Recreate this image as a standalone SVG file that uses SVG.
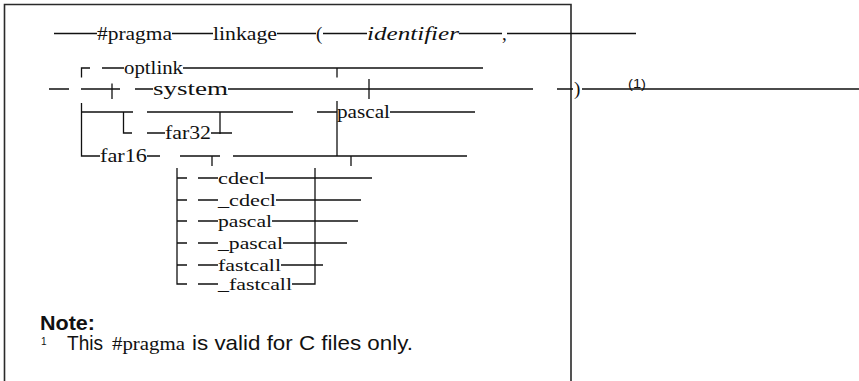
<svg xmlns="http://www.w3.org/2000/svg" width="859" height="381" viewBox="0 0 859 381">
  <style>
    .frame { fill: none; stroke: #2a2a2a; stroke-width: 1.6; }
    .rail { fill: none; stroke: #111; stroke-width: 1.3; }
    .kw { font-family: "Liberation Serif", "Times New Roman", serif; font-size: 19px; fill: #111; }
    .kw.sm { font-size: 17px; }
    .var { font-family: "Liberation Serif", "Times New Roman", serif; font-size: 19px; font-style: italic; fill: #111; }
    .sans { font-family: "Liberation Sans", Arial, sans-serif; font-size: 21px; fill: #111; }
    .note { font-family: "Liberation Sans", Arial, sans-serif; font-size: 20px; font-weight: bold; fill: #111; }
    .ref { font-family: "Liberation Sans", Arial, sans-serif; font-size: 13px; fill: #111; }
    .sup { font-family: "Liberation Sans", Arial, sans-serif; font-size: 10px; fill: #111; }
  </style>
  <rect width="859" height="381" fill="#fff"/>

  <!-- surrounding frame, open at the bottom -->
  <path class="frame" d="M4.5,390 V4.5 H571 V390"/>

  <!-- syntax rails -->
  <g id="connectors" class="rail">
    <!-- main line -->
    <path d="M54,33.5 H97 M172,33.5 H213 M277,33.5 H316 M323,33.5 H367 M459,33.5 H502 M507,33.5 H636"/>
    <!-- optlink row -->
    <path d="M90,68 H81.5 V77.5 M102,68 H124 M183,68 H483 M337,68 V77.5"/>
    <!-- system row -->
    <path d="M49,89 H69 M81,89 H120 M112,83.5 V99 M135,89 H153 M228,89 H533 M369,79 V99 M557,89 H573 M582,89 H859"/>
    <!-- far32 / pascal branch -->
    <path d="M81.5,103 V156 H100 M81.5,112 H133 M123.5,112 V133 H132 M147,112 H293 M317,112 H337 M390,112 H475 M337,101 V156"/>
    <path d="M147,133 H165 M211,133 H232 M220,112 V134"/>
    <!-- far16 row -->
    <path d="M147,156 H160 M180,156 H220 M212,156 V166 M233,156 H467 M351,156 V166"/>
    <!-- calling convention stack -->
    <path d="M177,168 V284 H187 M177,178 H187 M177,200 H187 M177,221 H187 M177,243 H187 M177,265 H187"/>
    <path d="M315,168 V284 H292"/>
    <path d="M198,178 H218 M198,200 H218 M198,221 H218 M198,243 H218 M198,265 H218 M198,284 H218"/>
    <path d="M265,178 H372 M276,200 H361 M272,221 H358 M283,243 H347 M281,265 H323"/>
  </g>

  <g id="pragma"><text class="kw" x="97" y="39.5" textLength="75" lengthAdjust="spacingAndGlyphs">#pragma</text></g>
  <g id="linkage"><text class="kw" x="213" y="39.5" textLength="64" lengthAdjust="spacingAndGlyphs">linkage</text></g>
  <g id="open-paren"><text class="kw" x="316" y="39.5">(</text></g>
  <g id="identifier"><text class="var" x="367" y="39.5" textLength="92" lengthAdjust="spacingAndGlyphs">identifier</text></g>
  <g id="comma"><text class="kw" x="502" y="39.5">,</text></g>

  <g id="optlink"><text class="kw" x="124" y="74" textLength="59" lengthAdjust="spacingAndGlyphs">optlink</text></g>
  <g id="system"><text class="kw" x="153" y="95" textLength="75" lengthAdjust="spacingAndGlyphs">system</text></g>
  <g id="close-paren"><text class="kw" x="574" y="95">)</text></g>
  <g id="footnote-ref"><text class="ref" x="628" y="88" textLength="18" lengthAdjust="spacingAndGlyphs">(1)</text></g>

  <g id="pascal-far"><text class="kw" x="337" y="118" textLength="53" lengthAdjust="spacingAndGlyphs">pascal</text></g>
  <g id="far32"><text class="kw" x="165" y="139" textLength="46" lengthAdjust="spacingAndGlyphs">far32</text></g>
  <g id="far16"><text class="kw" x="100" y="162" textLength="47" lengthAdjust="spacingAndGlyphs">far16</text></g>

  <g id="cdecl"><text class="kw sm" x="218" y="184" textLength="47" lengthAdjust="spacingAndGlyphs">cdecl</text></g>
  <g id="_cdecl"><text class="kw sm" x="218" y="206" textLength="58" lengthAdjust="spacingAndGlyphs">_cdecl</text></g>
  <g id="pascal"><text class="kw sm" x="218" y="227" textLength="54" lengthAdjust="spacingAndGlyphs">pascal</text></g>
  <g id="_pascal"><text class="kw sm" x="218" y="249" textLength="65" lengthAdjust="spacingAndGlyphs">_pascal</text></g>
  <g id="fastcall"><text class="kw sm" x="218" y="270.5" textLength="63" lengthAdjust="spacingAndGlyphs">fastcall</text></g>
  <g id="_fastcall"><text class="kw sm" x="218" y="290" textLength="74" lengthAdjust="spacingAndGlyphs">_fastcall</text></g>

  <!-- footnote -->
  <g id="note">
    <text class="note" x="40" y="330" textLength="55" lengthAdjust="spacingAndGlyphs">Note:</text>
    <text class="sup" x="41" y="345">1</text>
    <text class="sans" x="67" y="350" textLength="36" lengthAdjust="spacingAndGlyphs">This</text>
    <text class="kw" x="112" y="350" textLength="73" lengthAdjust="spacingAndGlyphs">#pragma</text>
    <text class="sans" x="192" y="350" textLength="221" lengthAdjust="spacingAndGlyphs">is valid for C files only.</text>
  </g>
</svg>
